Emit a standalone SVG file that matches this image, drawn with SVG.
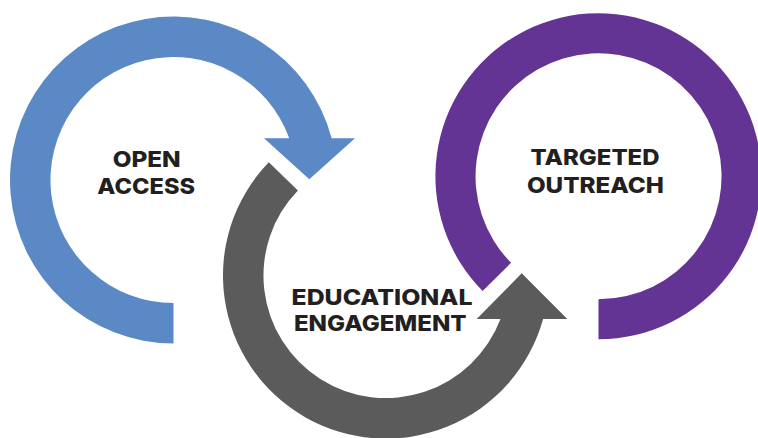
<svg xmlns="http://www.w3.org/2000/svg" width="758" height="438" viewBox="0 0 758 438">
<style>
.lbl{font-family:"Inter","Open Sans","Liberation Sans",sans-serif;font-weight:800;font-size:22px;fill:#231F20;text-anchor:middle}
.blue{fill:#5A89C6}
.gray{fill:#5B5B5B}
.purple{fill:#633493}
</style>
<rect width="758" height="438" fill="#FFFFFF"/>
<g id="connectors"></g>
<g id="node-open-access">
<path class="blue" d="M173.5 343.5 A163.5 163.5 0 1 1 331.6 138.3 L355 138.3 L309.3 179.3 L264 138.3 L289.2 138.3 A123 123 0 1 0 173.5 303 Z"/>
<text class="lbl" x="146.7" y="166.7" textLength="68" lengthAdjust="spacingAndGlyphs">OPEN</text>
<text class="lbl" x="146.2" y="194" textLength="97.7" lengthAdjust="spacingAndGlyphs">ACCESS</text>
</g>
<g id="node-educational-engagement">
<path class="gray" d="M268.8 162.3 A163 163 0 1 0 543.1 319 L567.3 319 L521.7 273.3 L476.7 319 L500.5 319 A122.5 122.5 0 1 1 297.9 190.4 Z"/>
<text class="lbl" x="382" y="305" textLength="181" lengthAdjust="spacingAndGlyphs">EDUCATIONAL</text>
<text class="lbl" x="380.3" y="330.7" textLength="172.7" lengthAdjust="spacingAndGlyphs">ENGAGEMENT</text>
</g>
<g id="node-targeted-outreach">
<path class="purple" d="M598.5 339.3 A163 163 0 1 0 482.6 291 L511.1 262.8 A123 123 0 1 1 598.5 299.3 Z"/>
<text class="lbl" x="595" y="165" textLength="129" lengthAdjust="spacingAndGlyphs">TARGETED</text>
<text class="lbl" x="595.4" y="192.5" textLength="137" lengthAdjust="spacingAndGlyphs">OUTREACH</text>
</g>
</svg>
